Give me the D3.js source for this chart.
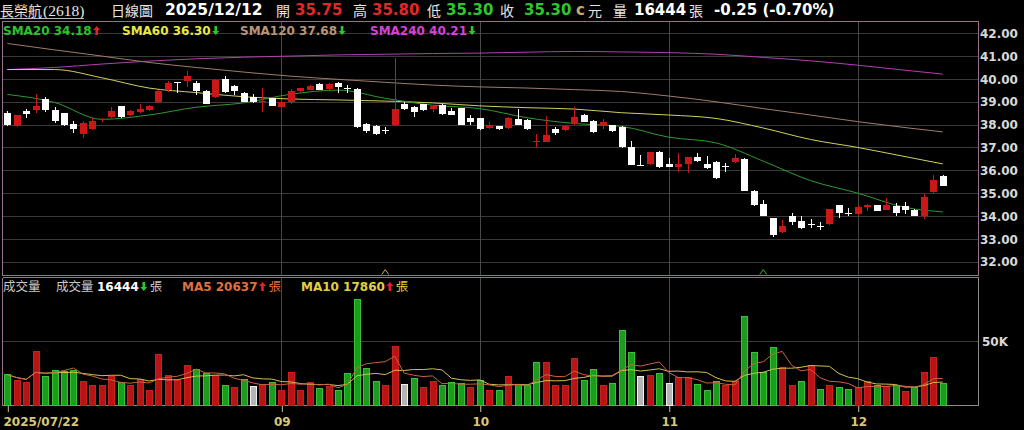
<!DOCTYPE html>
<html><head><meta charset="utf-8">
<script src="https://cdn.jsdelivr.net/npm/d3@7"></script>
<style>
html,body{margin:0;padding:0;background:#000;overflow:hidden;}
svg{display:block;}
</style></head><body>
<svg id="c" width="1024" height="430"></svg>
<script>
// ---- data ----
const openP  = [38.50,37.95,38.60,38.62,39.12,38.65,38.50,38.03,37.60,37.80,38.20,38.32,38.80,38.42,38.55,38.65,39.00,39.52,39.85,39.92,39.83,39.45,39.20,40.00,39.70,39.40,39.20,39.00,39.15,38.77,38.98,39.45,39.52,39.77,39.55,39.80,39.60,39.55,38.03,37.92,37.78,37.98,38.88,38.78,38.88,38.68,38.86,38.60,38.72,38.30,38.27,37.84,37.92,37.84,38.24,38.20,37.25,37.25,37.80,37.76,38.02,38.40,38.16,37.92,37.98,37.90,37.03,36.25,36.27,36.78,36.28,36.14,36.27,36.60,36.28,36.38,36.18,36.38,36.50,35.10,34.52,33.90,33.28,34.00,33.76,33.67,33.58,33.66,34.46,34.12,34.10,34.40,34.48,34.27,34.45,34.42,34.27,34.00,35.05,35.75];
const highP  = [38.60,38.40,38.70,39.35,39.20,38.78,38.50,38.15,38.15,38.30,38.30,38.78,38.82,38.65,38.90,38.85,39.50,39.92,39.88,40.35,39.92,39.50,39.98,40.12,39.72,39.42,39.32,39.58,39.17,39.05,39.55,39.62,39.75,39.80,39.80,39.88,39.73,39.58,38.05,38.00,37.90,40.90,38.98,38.82,38.92,38.85,38.88,38.72,38.74,38.40,38.30,38.10,37.96,38.35,38.68,38.24,37.58,38.39,37.90,37.98,38.78,38.45,38.18,38.25,38.00,37.95,37.28,36.65,36.80,36.85,36.55,36.75,36.60,36.75,36.62,36.40,36.34,36.70,36.52,35.12,34.68,33.92,33.83,34.13,34.00,33.85,33.72,34.32,34.48,34.33,34.50,34.52,34.50,34.78,34.56,34.60,34.30,34.95,35.80,35.80];
const lowP   = [37.95,37.90,38.30,38.50,38.55,38.05,37.95,37.65,37.40,37.75,38.10,38.28,38.30,38.38,38.50,38.58,38.95,39.44,39.40,39.66,39.30,38.88,39.15,39.40,39.30,39.00,38.93,38.56,38.80,38.72,38.90,39.42,39.50,39.50,39.53,39.40,39.38,37.85,37.65,37.55,37.60,37.95,38.65,38.35,38.60,38.56,38.44,38.40,37.98,38.00,37.78,37.80,37.78,37.80,37.98,37.78,37.04,37.22,37.55,37.72,37.98,38.10,37.62,37.80,37.68,36.98,36.22,36.22,36.25,36.12,36.14,35.94,35.87,36.35,36.05,35.62,35.94,36.30,35.08,34.45,33.98,33.10,33.25,33.62,33.45,33.47,33.37,33.62,33.91,34.00,34.05,34.20,34.20,34.25,34.00,34.10,33.98,33.88,35.00,35.30];
const closeP = [38.00,38.40,38.45,38.83,38.62,38.15,38.00,37.80,38.05,38.15,38.23,38.60,38.35,38.60,38.70,38.80,39.47,39.80,39.85,40.12,39.45,38.90,39.95,39.42,39.47,39.00,39.00,39.05,38.83,39.00,39.47,39.58,39.68,39.52,39.77,39.63,39.58,37.88,37.70,37.58,37.75,38.70,38.70,38.55,38.65,38.83,38.46,38.43,38.00,38.13,37.81,37.98,37.82,38.27,38.00,37.81,37.30,37.55,37.65,37.94,38.35,38.13,37.66,38.13,37.72,37.00,36.25,36.25,36.78,36.16,36.16,36.28,36.57,36.42,36.09,35.68,36.16,36.52,35.10,34.50,34.00,33.15,33.57,33.72,33.47,33.65,33.57,34.30,34.13,34.10,34.39,34.50,34.24,34.48,34.15,34.27,34.00,34.85,35.58,35.30];
const prevCloseBefore = 38.40;
const volume = [23570,19190,17140,41590,22300,26880,26200,26880,17920,14900,15390,22300,17430,14900,19970,11010,38960,23080,18990,30780,27660,24350,23080,15390,13340,19970,14120,15880,17140,11490,25130,11490,17430,12860,14120,11490,24350,82010,28730,18510,15390,45390,16170,20450,13340,17920,15390,17430,16660,13640,19190,11490,11010,21820,15880,14900,32820,32820,14900,14900,36430,19190,27470,14900,16660,57660,40520,21820,23080,24350,16660,21040,21040,15880,11010,17920,14900,18510,69250,40520,25130,44410,29510,15390,18510,30780,12270,15390,13340,12080,13340,17920,14900,14120,15390,10620,13640,25620,37210,16444];

const smaDays = [0,5,10,15,20,25,30,35,40,45,50,55,60,65,70,75,80,85,90,95,99];
const sma20  = [39.32,38.97,38.23,38.42,38.76,38.95,39.33,39.51,39.15,38.85,38.70,38.30,38.05,37.92,37.45,37.20,36.40,35.55,35.00,34.38,34.18];
const sma60  = [40.41,40.41,40.05,39.60,39.40,39.22,39.12,39.08,39.03,38.95,38.82,38.74,38.68,38.52,38.42,38.27,37.85,37.35,37.00,36.60,36.28];
const sma120 = [41.55,41.27,41.00,40.72,40.50,40.30,40.12,39.98,39.85,39.73,39.65,39.60,39.53,39.45,39.25,39.00,38.70,38.42,38.13,37.87,37.68];
const sma240 = [40.41,40.50,40.65,40.78,40.88,40.95,41.00,41.05,41.08,41.11,41.13,41.17,41.20,41.18,41.15,41.08,40.94,40.79,40.60,40.38,40.21];

const priceTicks = [32,33,34,35,36,37,38,39,40,41,42];
const volTicks = [50000];
const volTickLabels = ["50K"];
const monthIdx = [29,50,70,90];
const monthLabels = ["09","10","11","12"];
const firstDateLabel = "2025/07/22";
const markerIdx = [40,80];
const markerColors = ["#c8b060","#30b030"];

// ---- layout ----
const L = 3, R = 978;
const pTop = 21.5, pBot = 275.5, vTop = 277.5, vBot = 405.5;
const svg = d3.select("#c");
const N = closeP.length;
const x = d3.scaleLinear().domain([0, N-1]).range([7.3, 942.8]);
const yP = d3.scaleLinear().domain([32, 42]).range([261.7, 33.2]);
const yV = d3.scaleLinear().domain([0, 50000]).range([405, 340.8]);

const CJK = "'Noto Sans CJK TC','Noto Sans CJK SC',sans-serif";
const NUM = "'DejaVu Sans',Verdana,sans-serif";

svg.append("rect").attr("width",1024).attr("height",430).attr("fill","#000");

// grid
const g = svg.append("g").attr("shape-rendering","crispEdges");
g.selectAll(".hg").data(priceTicks).join("line")
  .attr("x1",L).attr("x2",R).attr("y1",d=>Math.round(yP(d))+0.5).attr("y2",d=>Math.round(yP(d))+0.5)
  .attr("stroke","#3a3a3a");
g.selectAll(".vg").data(volTicks).join("line")
  .attr("x1",L).attr("x2",R).attr("y1",d=>Math.round(yV(d))+0.5).attr("y2",d=>Math.round(yV(d))+0.5)
  .attr("stroke","#3a3a3a");
monthIdx.forEach(i=>{
  const xx = Math.round(x(i))+0.5;
  g.append("line").attr("x1",xx).attr("x2",xx).attr("y1",pTop).attr("y2",pBot).attr("stroke","#484848");
  g.append("line").attr("x1",xx).attr("x2",xx).attr("y1",vTop).attr("y2",vBot).attr("stroke","#484848");
});

// borders
g.append("rect").attr("x",L-0.5).attr("y",pTop).attr("width",R-L+1).attr("height",pBot-pTop)
  .attr("fill","none").attr("stroke","#9a7088");
g.append("line").attr("x1",L-0.5).attr("x2",R+0.5).attr("y1",vTop).attr("y2",vTop).attr("stroke","#9a7088");
g.append("line").attr("x1",L-0.5).attr("x2",L-0.5).attr("y1",vTop).attr("y2",vBot).attr("stroke","#9a7088");
g.append("line").attr("x1",R+0.5).attr("x2",R+0.5).attr("y1",vTop).attr("y2",vBot).attr("stroke","#8c8c8c");
g.append("line").attr("x1",L-0.5).attr("x2",R+0.5).attr("y1",vBot).attr("y2",vBot).attr("stroke","#8c8c8c");

// SMA lines
const smaLine = d3.line().x((d,i)=>x(smaDays[i])).y(d=>yP(d)).curve(d3.curveMonotoneX);
[[sma240,"#b040b0"],[sma120,"#a07c68"],[sma60,"#d0d060"],[sma20,"#2e9a2e"]].forEach(([arr,col])=>{
  svg.append("path").attr("d",smaLine(arr)).attr("fill","none").attr("stroke",col).attr("stroke-width",1);
});

// candles
const bw = 7;
const cg = svg.append("g").attr("shape-rendering","crispEdges");
for (let i=0;i<N;i++){
  const o=openP[i], c=closeP[i], h=highP[i], l=lowP[i];
  const up = c>o;
  const col = up ? "#c81818" : "#ffffff";
  const cx = Math.round(x(i))+0.5;
  cg.append("line").attr("x1",cx).attr("x2",cx).attr("y1",yP(h)).attr("y2",yP(l)).attr("stroke",col);
  const y1 = yP(Math.max(o,c)), y2 = yP(Math.min(o,c));
  const hh = Math.max(1, y2-y1);
  cg.append("rect").attr("x",cx-bw/2).attr("y",y1).attr("width",bw).attr("height",hh)
    .attr("fill",col);
}

// markers
markerIdx.forEach((i,k)=>{
  const cx = x(i);
  svg.append("path").attr("d",`M${cx-3.5},${pBot-1} L${cx},${pBot-6} L${cx+3.5},${pBot-1}`)
    .attr("fill","none").attr("stroke",markerColors[k]).attr("stroke-width",1);
});

// volume bars
const vg2 = svg.append("g").attr("shape-rendering","crispEdges");
for (let i=0;i<N;i++){
  const prev = i===0 ? prevCloseBefore : closeP[i-1];
  const diff = Math.round((closeP[i]-prev)*100);
  let fill, stroke;
  if (diff>0){fill="#b81414";stroke="#cc2020";}
  else if (diff<0){fill="#1c9c1c";stroke="#38c238";}
  else {fill="#b4b4b4";stroke="#f0f0f0";}
  const cx = Math.round(x(i));
  vg2.append("rect").attr("x",cx-3+0.5).attr("y",yV(volume[i])).attr("width",bw-1).attr("height",yV(0)-yV(volume[i]))
    .attr("fill",fill).attr("stroke",stroke).attr("stroke-width",1);
}
// volume MAs
function ma(arr,n){return arr.map((d,i)=>{const s=arr.slice(Math.max(0,i-n+1),i+1);return d3.mean(s);});}
const ma5 = ma(volume,5), ma10 = ma(volume,10);
const vLine = d3.line().x((d,i)=>x(i)).y(d=>yV(d));
svg.append("path").attr("d",vLine(ma10)).attr("fill","none").attr("stroke","#d0c050").attr("stroke-width",1);
svg.append("path").attr("d",vLine(ma5)).attr("fill","none").attr("stroke","#c8643c").attr("stroke-width",1);

// axes labels
const yAxis = d3.axisRight(yP).tickValues(priceTicks).tickFormat(d=>d.toFixed(2)).tickSize(0).tickPadding(0);
const ya = svg.append("g").attr("transform",`translate(${R+2},0)`).call(yAxis);
ya.select(".domain").remove();
ya.selectAll("text").attr("font-family",NUM).attr("font-weight","bold").attr("font-size",12).attr("fill","#d8d8d8").attr("dy","0.35em");
const yvAxis = d3.axisRight(yV).tickValues(volTicks).tickFormat((d,i)=>volTickLabels[i]).tickSize(0).tickPadding(0);
const yva = svg.append("g").attr("transform",`translate(${R+4},0)`).call(yvAxis);
yva.select(".domain").remove();
yva.selectAll("text").attr("font-family",NUM).attr("font-weight","bold").attr("font-size",12).attr("fill","#d8d8d8").attr("dy","0.35em");

const xAxis = d3.axisBottom(x).tickValues([0].concat(monthIdx)).tickFormat((d,i)=> i===0 ? firstDateLabel : monthLabels[i-1]).tickSize(6).tickPadding(5);
const xa = svg.append("g").attr("transform",`translate(0.5,${vBot+0.5})`).call(xAxis);
xa.select(".domain").remove();
xa.selectAll("line").attr("stroke","#c8c8a0");
xa.selectAll("text").attr("font-family",NUM).attr("font-weight","bold").attr("font-size",12).attr("fill","#d8c878");
xa.selectAll(".tick").filter((d,i)=>i===0).select("text").attr("text-anchor","start").attr("x",-4.8);

// ---- header text ----
function txt(xp, yp, s, opt){
  const t = svg.append("text").attr("x",xp).attr("y",yp).text(s)
    .attr("font-family",opt.f||NUM).attr("font-size",opt.s||15).attr("fill",opt.c||"#fff");
  if (opt.b) t.attr("font-weight","bold");
  return t;
}
txt(0,16,"長榮航",{f:CJK,s:14,c:"#e6e6e6"});
txt(43,15.5,"(2618)",{f:"'Liberation Serif',serif",s:15.5,c:"#e6e6e6"});
svg.append("line").attr("x1",0).attr("x2",84).attr("y1",18.5).attr("y2",18.5).attr("stroke","#bbbbbb").attr("shape-rendering","crispEdges");
txt(111,16,"日線圖",{f:CJK,s:14,c:"#e6e6e6"});
txt(165,15,"2025/12/12",{b:1,s:15.5,c:"#ffffff"});
txt(276,16,"開",{f:CJK,s:14,c:"#e6e6e6"});
txt(295,15,"35.75",{b:1,s:15,c:"#e02828"});
txt(353,16,"高",{f:CJK,s:14,c:"#e6e6e6"});
txt(372,15,"35.80",{b:1,s:15,c:"#e02828"});
txt(427,16,"低",{f:CJK,s:14,c:"#e6e6e6"});
txt(446,15,"35.30",{b:1,s:15,c:"#2ec82e"});
txt(500,16,"收",{f:CJK,s:14,c:"#e6e6e6"});
txt(524,15,"35.30",{b:1,s:15,c:"#2ec82e"});
txt(576,15,"c",{b:1,s:15,c:"#c8a868"});
txt(588,16,"元",{f:CJK,s:14,c:"#e6e6e6"});
txt(613,16,"量",{f:CJK,s:14,c:"#e6e6e6"});
txt(634,15,"16444",{b:1,s:15,c:"#ffffff"});
txt(689,16,"張",{f:CJK,s:14,c:"#e6e6e6"});
txt(714,15,"-0.25 (-0.70%)",{b:1,s:15,c:"#ffffff"});

// arrows
function arrow(cx, top, up, col){
  const h=9, w=7;
  let d;
  if (up) d=`M${cx},${top} L${cx+w/2},${top+4} L${cx+1.3},${top+4} L${cx+1.3},${top+h} L${cx-1.3},${top+h} L${cx-1.3},${top+4} L${cx-w/2},${top+4} Z`;
  else d=`M${cx},${top+h} L${cx+w/2},${top+h-4} L${cx+1.3},${top+h-4} L${cx+1.3},${top} L${cx-1.3},${top} L${cx-1.3},${top+h-4} L${cx-w/2},${top+h-4} Z`;
  svg.append("path").attr("d",d).attr("fill",col);
}
function legendItem(xp, yp, s, col, up){
  const t = txt(xp, yp, s, {b:1,s:12,c:col});
  const w = t.node().getComputedTextLength();
  arrow(xp+w+5, yp-9, up, up ? "#e82020" : "#28c828");
  return xp+w+10;
}
legendItem(3,35,"SMA20 34.18","#2ec02e",true);
legendItem(122,35,"SMA60 36.30","#e8e840",false);
legendItem(240,35,"SMA120 37.68","#b89478",false);
legendItem(370,35,"SMA240 40.21","#d840d8",false);

// volume legend
txt(3,291,"成交量",{f:CJK,s:12.5,c:"#c8c8c8"});
txt(56,291,"成交量",{f:CJK,s:12.5,c:"#c8c8c8"});
let xe = legendItem(97,291,"16444","#ffffff",false);
txt(xe+1,291,"張",{f:CJK,s:12.5,c:"#c8c8c8"});
xe = legendItem(182,291,"MA5 20637","#e07040",true);
txt(xe+1,291,"張",{f:CJK,s:12.5,c:"#e07040"});
xe = legendItem(301,291,"MA10 17860","#e0d040",true);
txt(xe+1,291,"張",{f:CJK,s:12.5,c:"#e0d040"});
</script>
</body></html>
